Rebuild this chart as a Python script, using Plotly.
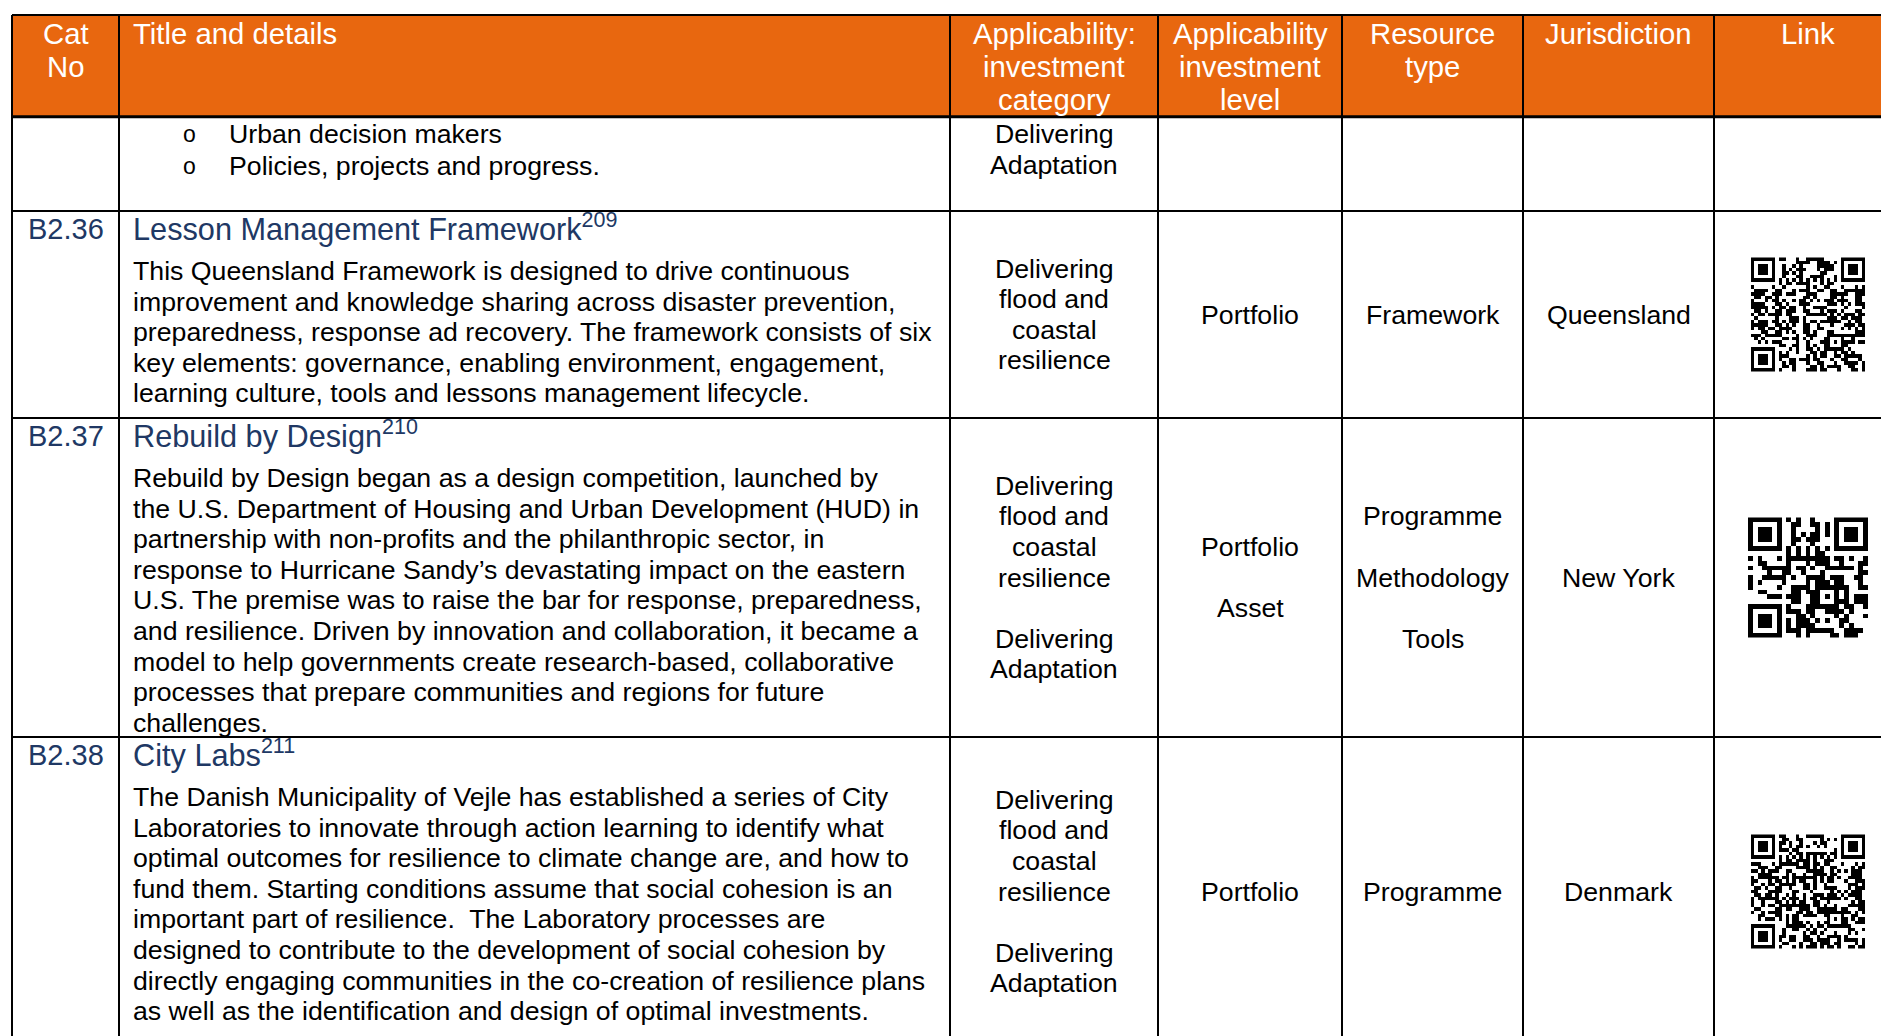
import plotly.graph_objects as go

# ---------------- data ----------------
header_labels = [["Cat", "No"], ["Title and details"], ["Applicability:", "investment", "category"],
                 ["Applicability", "investment", "level"], ["Resource", "type"], ["Jurisdiction"], ["Link"]]

cat_nos = ["", "B2.36", "B2.37", "B2.38"]
titles = ["", "Lesson Management Framework", "Rebuild by Design", "City Labs"]
footnotes = ["", "209", "210", "211"]

bullets_row0 = ["Urban decision makers", "Policies, projects and progress."]

details = [
    [],
    ["This Queensland Framework is designed to drive continuous",
     "improvement and knowledge sharing across disaster prevention,",
     "preparedness, response ad recovery. The framework consists of six",
     "key elements: governance, enabling environment, engagement,",
     "learning culture, tools and lessons management lifecycle."],
    ["Rebuild by Design began as a design competition, launched by",
     "the U.S. Department of Housing and Urban Development (HUD) in",
     "partnership with non-profits and the philanthropic sector, in",
     "response to Hurricane Sandy\u2019s devastating impact on the eastern",
     "U.S. The premise was to raise the bar for response, preparedness,",
     "and resilience. Driven by innovation and collaboration, it became a",
     "model to help governments create research-based, collaborative",
     "processes that prepare communities and regions for future",
     "challenges."],
    ["The Danish Municipality of Vejle has established a series of City",
     "Laboratories to innovate through action learning to identify what",
     "optimal outcomes for resilience to climate change are, and how to",
     "fund them. Starting conditions assume that social cohesion is an",
     "important part of resilience.  The Laboratory processes are",
     "designed to contribute to the development of social cohesion by",
     "directly engaging communities in the co-creation of resilience plans",
     "as well as the identification and design of optimal investments."],
]

app_category = [
    ["Delivering", "Adaptation"],
    ["Delivering", "flood and", "coastal", "resilience"],
    ["Delivering", "flood and", "coastal", "resilience", "", "Delivering", "Adaptation"],
    ["Delivering", "flood and", "coastal", "resilience", "", "Delivering", "Adaptation"],
]
app_level = [[], ["Portfolio"], ["Portfolio", "", "Asset"], ["Portfolio"]]
resource_type = [[], ["Framework"], ["Programme", "", "Methodology", "", "Tools"], ["Programme"]]
jurisdiction = [[], ["Queensland"], ["New York"], ["Denmark"]]
qr_modules = [0, 33, 25, 33]

# ---------------- layout geometry ----------------
W, H = 1881, 1036
col_edges = [12, 119, 950, 1158, 1342, 1523, 1714, 1902]
table_top = 15
header_bottom = 116.7
row_edges = [116.7, 211, 418, 737, 1046]
line_h = 30.6
text_x = 130.5
ORANGE = "#E8670F"
BLUE = "#203864"
FONT = "Liberation Sans, Arial, sans-serif"
BODY = 26.7
HEAD = 29.3
TITLE = 30.7

fig = go.Figure()
shapes = []
ann = []


def add_text(x, y, text, size=BODY, color="black", anchor="center"):
    ann.append(dict(x=x, y=y, xref="x", yref="y", text=text, showarrow=False,
                    xanchor=anchor, yanchor="middle",
                    font=dict(family=FONT, size=size, color=color)))


# header background
shapes.append(dict(type="rect", x0=col_edges[0], x1=W + 5, y0=table_top, y1=header_bottom,
                   fillcolor=ORANGE, line=dict(width=0), layer="below"))

# header text
head_y = [33.6, 66.3, 99.6]
for ci, lab in enumerate(header_labels):
    cx = (col_edges[ci] + col_edges[ci + 1]) / 2
    for li, t in enumerate(lab):
        if ci == 1:
            add_text(text_x, head_y[li], t, HEAD, "white", "left")
        else:
            add_text(cx, head_y[li], t, HEAD, "white", "center")

# rows
for r in range(4):
    top, bot = row_edges[r], row_edges[r + 1]
    mid = (top + bot) / 2
    if r == 0:
        for i, t in enumerate(bullets_row0):
            y = 134.4 + i * 31.2
            add_text(181, y, "o", 23, "black", "left")
            add_text(226.5, y, t, BODY, "black", "left")
        cx = (col_edges[2] + col_edges[3]) / 2
        for i, t in enumerate(app_category[0]):
            add_text(cx, 134.4 + i * 30.6, t, BODY)
        continue
    add_text((col_edges[0] + col_edges[1]) / 2, top + 17.5, cat_nos[r], 29, BLUE)
    add_text(text_x, top + 16, titles[r] + "<sup>" + footnotes[r] + "</sup>", TITLE, BLUE, "left")
    for i, t in enumerate(details[r]):
        add_text(text_x, top + 60 + i * line_h, t, BODY, "black", "left")
    for ci, block in ((2, app_category[r]), (3, app_level[r]), (4, resource_type[r]), (5, jurisdiction[r])):
        cx = (col_edges[ci] + col_edges[ci + 1]) / 2
        n = len(block)
        for i, t in enumerate(block):
            if t:
                add_text(cx, mid + (i - (n - 1) / 2) * line_h, t, BODY)

    # QR-like code (decorative), built from the row's text bytes
    n = qr_modules[r]
    size = 114 if n == 33 else 120
    m = [[0] * n for _ in range(n)]
    reserved = [[False] * n for _ in range(n)]

    def finder(r0, c0):
        for i in range(-1, 8):
            for j in range(-1, 8):
                rr, cc = r0 + i, c0 + j
                if 0 <= rr < n and 0 <= cc < n:
                    reserved[rr][cc] = True
                    if 0 <= i <= 6 and 0 <= j <= 6:
                        ring = i in (0, 6) or j in (0, 6)
                        core = 2 <= i <= 4 and 2 <= j <= 4
                        m[rr][cc] = 1 if (ring or core) else 0
    finder(0, 0); finder(0, n - 7); finder(n - 7, 0)
    for k in range(8, n - 8):
        m[6][k] = 1 - k % 2; reserved[6][k] = True
        m[k][6] = 1 - k % 2; reserved[k][6] = True
    a = n - 9
    for i in range(-2, 3):
        for j in range(-2, 3):
            reserved[a + i][a + j] = True
            m[a + i][a + j] = 1 if (max(abs(i), abs(j)) != 1) else 0
    bits = []
    src = (" ".join(details[r]) + titles[r]).encode("utf-8")
    for b in src:
        for s in range(8):
            bits.append((b >> s) & 1)
    k = 0
    for i in range(n):
        for j in range(n):
            if not reserved[i][j]:
                v = bits[k % len(bits)]
                k += 1
                mask = 1 if ((i * j) % 2 + (i * j) % 3) == 0 else 0
                m[i][j] = v ^ mask ^ ((i + j * 3) % 2 if (i // 3 + j // 2) % 2 else 0)
    d = size / n
    cx = (col_edges[6] + 1902) / 2
    fig.add_trace(go.Heatmap(z=m, x0=cx - size / 2 + d / 2, dx=d, y0=mid - size / 2 + d / 2, dy=d,
                             colorscale=[[0, "white"], [1, "black"]], zmin=0, zmax=1,
                             showscale=False, hoverinfo="skip", zsmooth=False))

# borders
LW = 2
shapes.append(dict(type="line", x0=col_edges[0], x1=W + 5, y0=table_top, y1=table_top,
                   line=dict(color="black", width=LW)))
for y in row_edges[:-1]:
    shapes.append(dict(type="line", x0=col_edges[0], x1=W + 5, y0=y, y1=y,
                       line=dict(color="black", width=3 if y == header_bottom else LW)))
for x in col_edges[:-1]:
    shapes.append(dict(type="line", x0=x, x1=x, y0=table_top, y1=H + 5,
                       line=dict(color="black", width=LW)))

fig.update_layout(
    width=W, height=H, margin=dict(l=0, r=0, t=0, b=0),
    paper_bgcolor="white", plot_bgcolor="white",
    xaxis=dict(range=[0, W], visible=False, fixedrange=True),
    yaxis=dict(range=[H, 0], visible=False, fixedrange=True),
    shapes=shapes, annotations=ann, showlegend=False,
)

fig.write_html("out.html", config={"displayModeBar": False},
               post_script="document.body.style.margin='0';document.body.style.overflow='hidden';")
